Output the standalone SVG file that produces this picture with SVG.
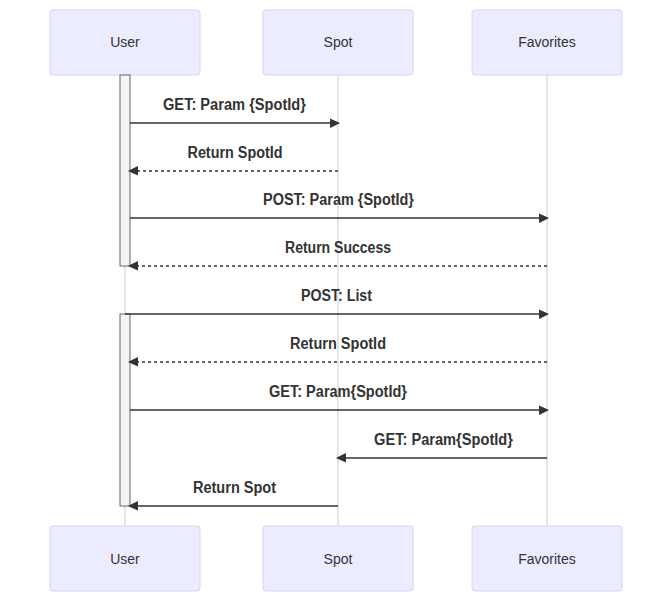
<svg xmlns="http://www.w3.org/2000/svg" width="672" height="592" viewBox="0 0 672 592">
<style>
.actor{fill:#ECECFF;stroke:#D7D2F5;stroke-width:1}
.atext{font-family:"Liberation Sans",Arial,sans-serif;font-size:14px;fill:#333;text-anchor:middle}
.life{stroke:#999;stroke-width:0.5}
.act{fill:#f4f4f4;stroke:#666;stroke-width:1}
.msg{stroke:#333;stroke-width:1.5;fill:none;marker-end:url(#ah)}
.dash{stroke-dasharray:3,3}
.mtext{font-family:"Liberation Sans",Arial,sans-serif;font-size:16px;font-weight:bold;fill:#333;text-anchor:middle}
</style>
<defs>
<marker id="ah" refX="7.9" refY="5" markerUnits="userSpaceOnUse" markerWidth="12" markerHeight="12" orient="auto">
<path d="M -1 0 L 10 5 L 0 10 z" fill="#333"/>
</marker>
</defs>
<rect width="672" height="592" fill="#fff"/>
<g id="lifelines">
<line class="life" x1="125" y1="75" x2="125" y2="526"/>
<line class="life" x1="338" y1="75" x2="338" y2="526"/>
<line class="life" x1="547" y1="75" x2="547" y2="526"/>
</g>
<g id="actor-user-top"><rect class="actor" x="50" y="10" width="150" height="65" rx="3"/><text class="atext" x="125" y="47">User</text></g>
<g id="actor-spot-top"><rect class="actor" x="263" y="10" width="150" height="65" rx="3"/><text class="atext" x="338" y="47">Spot</text></g>
<g id="actor-fav-top"><rect class="actor" x="472" y="10" width="150" height="65" rx="3"/><text class="atext" x="547" y="47">Favorites</text></g>
<g id="activation1"><rect class="act" x="120" y="75" width="10" height="191"/></g>
<g id="activation2"><rect class="act" x="120" y="314" width="10" height="192"/></g>
<g id="connectors">
<line class="msg" x1="130" y1="123" x2="338" y2="123"/>
<text class="mtext" x="234.5" y="110" textLength="143" lengthAdjust="spacingAndGlyphs">GET: Param {SpotId}</text>
<line class="msg dash" x1="338" y1="171" x2="130" y2="171"/>
<text class="mtext" x="235" y="158" textLength="95" lengthAdjust="spacingAndGlyphs">Return SpotId</text>
<line class="msg" x1="130" y1="218" x2="547" y2="218"/>
<text class="mtext" x="338.5" y="205" textLength="151" lengthAdjust="spacingAndGlyphs">POST: Param {SpotId}</text>
<line class="msg dash" x1="547" y1="266" x2="130" y2="266"/>
<text class="mtext" x="338" y="253" textLength="106" lengthAdjust="spacingAndGlyphs">Return Success</text>
<line class="msg" x1="125" y1="314" x2="547" y2="314"/>
<text class="mtext" x="336.5" y="301" textLength="71" lengthAdjust="spacingAndGlyphs">POST: List</text>
<line class="msg dash" x1="547" y1="362" x2="130" y2="362"/>
<text class="mtext" x="338" y="349" textLength="96" lengthAdjust="spacingAndGlyphs">Return SpotId</text>
<line class="msg" x1="130" y1="410" x2="547" y2="410"/>
<text class="mtext" x="338" y="397" textLength="138" lengthAdjust="spacingAndGlyphs">GET: Param{SpotId}</text>
<line class="msg" x1="547" y1="458" x2="338" y2="458"/>
<text class="mtext" x="443.5" y="445" textLength="139" lengthAdjust="spacingAndGlyphs">GET: Param{SpotId}</text>
<line class="msg" x1="338" y1="506" x2="130" y2="506"/>
<text class="mtext" x="234.5" y="493" textLength="83" lengthAdjust="spacingAndGlyphs">Return Spot</text>
</g>
<g id="actor-user-bottom"><rect class="actor" x="50" y="526" width="150" height="65" rx="3"/><text class="atext" x="125" y="564">User</text></g>
<g id="actor-spot-bottom"><rect class="actor" x="263" y="526" width="150" height="65" rx="3"/><text class="atext" x="338" y="564">Spot</text></g>
<g id="actor-fav-bottom"><rect class="actor" x="472" y="526" width="150" height="65" rx="3"/><text class="atext" x="547" y="564">Favorites</text></g>
</svg>
